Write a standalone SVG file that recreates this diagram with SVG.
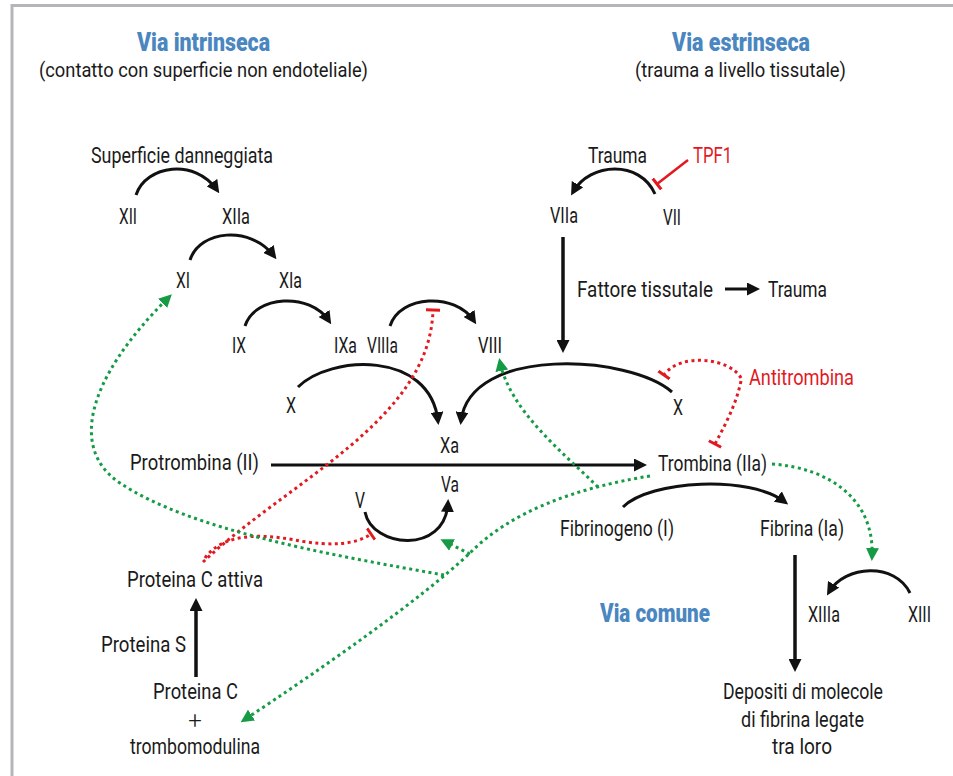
<svg xmlns="http://www.w3.org/2000/svg" width="953" height="776" viewBox="0 0 953 776">
<style>
text{font-family:"Roboto","Liberation Sans",sans-serif;font-size:22px;font-weight:400;fill:#1a1a1a}
.t{font-weight:900;font-size:26px;fill:#4a86c0}
.s{font-size:20px}
.r{fill:#e3191f}
.k{fill:none;stroke:#111;stroke-width:3}
.kv{fill:none;stroke:#111;stroke-width:3.5}
.g{fill:none;stroke:#169b45;stroke-width:3;stroke-dasharray:3 3.5}
.rd{fill:none;stroke:#e3191f;stroke-width:3;stroke-dasharray:3 3.5}
.rs{fill:none;stroke:#e3191f;stroke-width:2.5}
</style>
<defs>
<marker id="ak" viewBox="0 0 13 13" refX="9" refY="6.5" markerWidth="13" markerHeight="13" markerUnits="userSpaceOnUse" orient="auto"><path d="M0,0 L13,6.5 L0,13 z" fill="#111"/></marker>
<marker id="ag" viewBox="0 0 13 13" refX="9" refY="6.5" markerWidth="13" markerHeight="13" markerUnits="userSpaceOnUse" orient="auto"><path d="M0,0 L13,6.5 L0,13 z" fill="#169b45"/></marker>
<marker id="tee" viewBox="0 0 4 14" refX="2" refY="7" markerWidth="4" markerHeight="14" markerUnits="userSpaceOnUse" orient="auto"><path d="M2,0 V14" stroke="#e3191f" stroke-width="3"/></marker>
</defs>
<rect x="0" y="0" width="953" height="776" fill="#fff"/>
<rect x="12" y="5.5" width="960" height="800" fill="none" stroke="#b5b5b9" stroke-width="3"/>

<g id="titles">
<text class="t" x="137" y="51" textLength="133" lengthAdjust="spacingAndGlyphs">Via intrinseca</text>
<text class="s" x="39" y="77" textLength="329" lengthAdjust="spacingAndGlyphs">(contatto con superficie non endoteliale)</text>
<text class="t" x="672" y="51" textLength="138" lengthAdjust="spacingAndGlyphs">Via estrinseca</text>
<text class="s" x="635" y="77" textLength="211" lengthAdjust="spacingAndGlyphs">(trauma a livello tissutale)</text>
<text class="t" x="600" y="622" textLength="110" lengthAdjust="spacingAndGlyphs">Via comune</text>
</g>

<g id="connectors">
<path class="k" d="M136,195 C146,165 195,158 217,190" marker-end="url(#ak)"/>
<path class="k" d="M190,260 C200,230 250,225 274,256" marker-end="url(#ak)"/>
<path class="k" d="M245,326 C255,295 310,292 329,321" marker-end="url(#ak)"/>
<path class="k" d="M390,326 C400,295 455,292 474,321" marker-end="url(#ak)"/>
<path class="k" d="M298,387 C330,355 430,350 438,421" marker-end="url(#ak)"/>
<path class="k" d="M672,392 C630,355 470,345 461,421" marker-end="url(#ak)"/>
<path class="k" d="M365,512 C372,548 445,555 448,503" marker-end="url(#ak)"/>
<path class="k" d="M623,507 C650,480 750,475 785,502" marker-end="url(#ak)"/>
<path class="k" d="M655,194 C640,160 590,162 573,192" marker-end="url(#ak)"/>
<path class="k" d="M910,593 C895,562 845,565 829,592" marker-end="url(#ak)"/>
<path class="kv" d="M563,237 V349" marker-end="url(#ak)"/>
<path class="k" d="M725,289 H756" marker-end="url(#ak)"/>
<path class="k" d="M271,465 H643" marker-end="url(#ak)"/>
<path class="kv" d="M795,555 V668" marker-end="url(#ak)"/>
<path class="kv" d="M196,677 V602" marker-end="url(#ak)"/>
<path class="rs" d="M688,160 L657,184" marker-end="url(#tee)"/>
<path class="rd" d="M203,562 C290,480 430,420 433,310" marker-end="url(#tee)"/>
<path class="rd" d="M205,558 C225,530 270,535 300,541 C330,546 355,545 371,534" marker-end="url(#tee)"/>
<path class="rd" d="M741,378 C730,358 680,352 664,375" marker-end="url(#tee)"/>
<path class="rd" d="M741,381 C736,405 725,425 715,444" marker-end="url(#tee)"/>
<path class="g" d="M650,476 C575,488 510,512 470,553 C420,600 320,670 244,720" marker-end="url(#ag)"/>
<path class="g" d="M470,554 L444,541" marker-end="url(#ag)"/>
<path class="g" d="M444,575 C330,555 190,530 120,483 C70,450 85,380 169,297" marker-end="url(#ag)"/>
<path class="g" d="M598,487 C560,450 510,410 500,362" marker-end="url(#ag)"/>
<path class="g" d="M772,464 C830,468 875,500 872,557" marker-end="url(#ag)"/>
</g>

<g id="n-superficie"><text x="91" y="163" textLength="182" lengthAdjust="spacingAndGlyphs">Superficie danneggiata</text></g>
<g id="n-XII"><text x="119" y="224" textLength="18" lengthAdjust="spacingAndGlyphs">XII</text></g>
<g id="n-XIIa"><text x="222" y="224" textLength="28" lengthAdjust="spacingAndGlyphs">XIIa</text></g>
<g id="n-XI"><text x="176" y="288" textLength="14" lengthAdjust="spacingAndGlyphs">XI</text></g>
<g id="n-XIa"><text x="279" y="288" textLength="23" lengthAdjust="spacingAndGlyphs">XIa</text></g>
<g id="n-IX"><text x="232" y="353" textLength="14" lengthAdjust="spacingAndGlyphs">IX</text></g>
<g id="n-IXa"><text x="334" y="353" textLength="23" lengthAdjust="spacingAndGlyphs">IXa</text></g>
<g id="n-VIIIa"><text x="367" y="353" textLength="31" lengthAdjust="spacingAndGlyphs">VIIIa</text></g>
<g id="n-VIII"><text x="478" y="353" textLength="24" lengthAdjust="spacingAndGlyphs">VIII</text></g>
<g id="n-X1"><text x="286" y="413" textLength="10" lengthAdjust="spacingAndGlyphs">X</text></g>
<g id="n-Xa"><text x="440" y="453" textLength="19" lengthAdjust="spacingAndGlyphs">Xa</text></g>
<g id="n-protrombina"><text x="130" y="470" textLength="129" lengthAdjust="spacingAndGlyphs">Protrombina (II)</text></g>
<g id="n-Va"><text x="441" y="492" textLength="18" lengthAdjust="spacingAndGlyphs">Va</text></g>
<g id="n-V"><text x="355" y="508" textLength="10" lengthAdjust="spacingAndGlyphs">V</text></g>
<g id="n-protCattiva"><text x="127" y="587" textLength="136" lengthAdjust="spacingAndGlyphs">Proteina C attiva</text></g>
<g id="n-protS"><text x="101" y="652" textLength="85" lengthAdjust="spacingAndGlyphs">Proteina S</text></g>
<g id="n-protC">
<text x="153" y="699" textLength="85" lengthAdjust="spacingAndGlyphs">Proteina C</text>
<text x="195" y="729" text-anchor="middle" style="font-size:24px;font-weight:300">+</text>
<text x="130" y="754" textLength="130" lengthAdjust="spacingAndGlyphs">trombomodulina</text>
</g>
<g id="n-trauma1"><text x="588" y="163" textLength="59" lengthAdjust="spacingAndGlyphs">Trauma</text></g>
<g id="n-TPF1"><text class="r" x="693" y="163" textLength="39" lengthAdjust="spacingAndGlyphs">TPF1</text></g>
<g id="n-VIIa"><text x="550" y="223" textLength="28" lengthAdjust="spacingAndGlyphs">VIIa</text></g>
<g id="n-VII"><text x="663" y="225" textLength="18" lengthAdjust="spacingAndGlyphs">VII</text></g>
<g id="n-fattore"><text x="577" y="297" textLength="136" lengthAdjust="spacingAndGlyphs">Fattore tissutale</text></g>
<g id="n-trauma2"><text x="768" y="297" textLength="59" lengthAdjust="spacingAndGlyphs">Trauma</text></g>
<g id="n-antitrombina"><text class="r" x="749" y="385" textLength="105" lengthAdjust="spacingAndGlyphs">Antitrombina</text></g>
<g id="n-X2"><text x="673" y="415" textLength="10" lengthAdjust="spacingAndGlyphs">X</text></g>
<g id="n-trombina"><text x="658" y="471" textLength="109" lengthAdjust="spacingAndGlyphs">Trombina (IIa)</text></g>
<g id="n-fibrinogeno"><text x="560" y="536" textLength="114" lengthAdjust="spacingAndGlyphs">Fibrinogeno (I)</text></g>
<g id="n-fibrina"><text x="760" y="536" textLength="84" lengthAdjust="spacingAndGlyphs">Fibrina (Ia)</text></g>
<g id="n-XIIIa"><text x="808" y="622" textLength="32" lengthAdjust="spacingAndGlyphs">XIIIa</text></g>
<g id="n-XIII"><text x="908" y="622" textLength="23" lengthAdjust="spacingAndGlyphs">XIII</text></g>
<g id="n-depositi">
<text x="723" y="699" textLength="160" lengthAdjust="spacingAndGlyphs">Depositi di molecole</text>
<text x="741" y="727" textLength="123" lengthAdjust="spacingAndGlyphs">di fibrina legate</text>
<text x="772" y="754" textLength="60" lengthAdjust="spacingAndGlyphs">tra loro</text>
</g>
</svg>
